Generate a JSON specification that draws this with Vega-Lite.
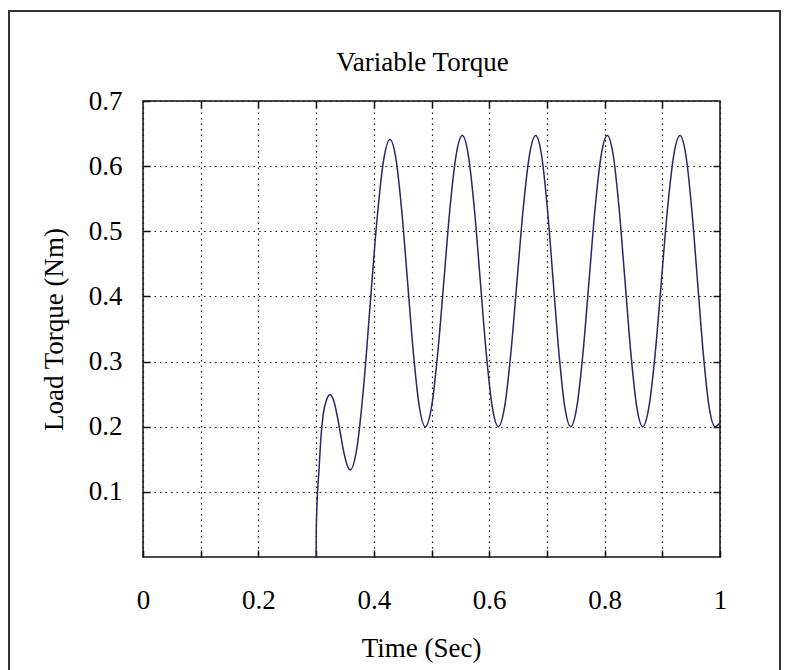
{
  "$schema": "https://vega.github.io/schema/vega-lite/v6.json",
  "width": 577,
  "height": 456,
  "autosize": {"type": "none"},
  "padding": {"left": 143, "top": 101, "right": 68, "bottom": 113},
  "background": "white",
  "title": {"text": "Variable Torque", "fontSize": 27, "font": "Liberation Serif", "fontWeight": "normal", "color": "#000", "frame": "group", "offset": -67, "dx": -9},
  "data": {"values": [
    {"t": 0.3000, "v": 0.000}, {"t": 0.3003, "v": 0.040}, {"t": 0.3016, "v": 0.082}, {"t": 0.3050, "v": 0.133},
    {"t": 0.3080, "v": 0.179}, {"t": 0.3125, "v": 0.220}, {"t": 0.3180, "v": 0.241}, {"t": 0.3241, "v": 0.249},
    {"t": 0.3300, "v": 0.2413}, {"t": 0.3358, "v": 0.2203}, {"t": 0.3417, "v": 0.1915}, {"t": 0.3476, "v": 0.1628},
    {"t": 0.3535, "v": 0.1417}, {"t": 0.3593, "v": 0.134}, {"t": 0.3708, "v": 0.168}, {"t": 0.3823, "v": 0.2608},
    {"t": 0.3937, "v": 0.3875}, {"t": 0.4052, "v": 0.5143}, {"t": 0.4166, "v": 0.607}, {"t": 0.4281, "v": 0.641},
    {"t": 0.4383, "v": 0.6115}, {"t": 0.4485, "v": 0.5308}, {"t": 0.4587, "v": 0.4205}, {"t": 0.4689, "v": 0.3103},
    {"t": 0.4791, "v": 0.2295}, {"t": 0.4893, "v": 0.200},
    {"t": 0.5000, "v": 0.2299}, {"t": 0.5107, "v": 0.3118}, {"t": 0.5214, "v": 0.4235}, {"t": 0.5320, "v": 0.5353}, {"t": 0.5427, "v": 0.6171}, {"t": 0.5534, "v": 0.647},
    {"t": 0.5638, "v": 0.6171}, {"t": 0.5742, "v": 0.5353}, {"t": 0.5846, "v": 0.4235}, {"t": 0.5950, "v": 0.3118}, {"t": 0.6054, "v": 0.2299}, {"t": 0.6158, "v": 0.200},
    {"t": 0.6266, "v": 0.2299}, {"t": 0.6374, "v": 0.3118}, {"t": 0.6482, "v": 0.4235}, {"t": 0.6590, "v": 0.5353}, {"t": 0.6698, "v": 0.6171}, {"t": 0.6806, "v": 0.647},
    {"t": 0.6907, "v": 0.6171}, {"t": 0.7008, "v": 0.5353}, {"t": 0.7109, "v": 0.4235}, {"t": 0.7210, "v": 0.3118}, {"t": 0.7311, "v": 0.2299}, {"t": 0.7412, "v": 0.200},
    {"t": 0.7518, "v": 0.2299}, {"t": 0.7624, "v": 0.3118}, {"t": 0.7730, "v": 0.4235}, {"t": 0.7835, "v": 0.5353}, {"t": 0.7941, "v": 0.6171}, {"t": 0.8047, "v": 0.647},
    {"t": 0.8149, "v": 0.6171}, {"t": 0.8251, "v": 0.5353}, {"t": 0.8354, "v": 0.4235}, {"t": 0.8456, "v": 0.3118}, {"t": 0.8558, "v": 0.2299}, {"t": 0.8660, "v": 0.200},
    {"t": 0.8768, "v": 0.2299}, {"t": 0.8876, "v": 0.3118}, {"t": 0.8984, "v": 0.4235}, {"t": 0.9091, "v": 0.5353}, {"t": 0.9199, "v": 0.6171}, {"t": 0.9307, "v": 0.647},
    {"t": 0.9408, "v": 0.6171}, {"t": 0.9509, "v": 0.5353}, {"t": 0.9610, "v": 0.4235}, {"t": 0.9711, "v": 0.3118}, {"t": 0.9812, "v": 0.2299}, {"t": 0.9913, "v": 0.200},
    {"t": 1.0000, "v": 0.206}
  ]},
  "layer": [
    {
      "mark": {"type": "rect", "fill": "transparent", "stroke": "#333", "strokeWidth": 1.6, "clip": false},
      "encoding": {
        "x": {"datum": -0.232, "type": "quantitative", "axis": null},
        "x2": {"datum": 1.104},
        "y": {"datum": 0.838, "type": "quantitative", "axis": null},
        "y2": {"datum": -0.19}
      }
    },
    {
      "mark": {"type": "line", "color": "#26266a", "strokeWidth": 1.5, "interpolate": "monotone"},
      "encoding": {
        "x": {
          "field": "t", "type": "quantitative",
          "scale": {"domain": [0, 1], "nice": false, "zero": false},
          "axis": {
            "values": [0, 0.1, 0.2, 0.3, 0.4, 0.5, 0.6, 0.7, 0.8, 0.9, 1],
            "format": "~g",
            "labelExpr": "round(datum.value * 10) % 2 == 0 ? datum.label : ''",
            "labelFlush": false, "labelOverlap": false,
            "grid": true, "gridDash": [1.5, 4], "gridColor": "#111", "gridWidth": 1.2,
            "domain": false, "tickSize": -7, "tickColor": "#111", "tickWidth": 1.5,
            "labelPadding": 37, "labelFontSize": 27, "labelFont": "Liberation Serif", "labelColor": "#000",
            "title": "Time (Sec)", "titleFontSize": 27, "titleFont": "Liberation Serif", "titleFontWeight": "normal",
            "titleColor": "#000", "titlePadding": 22, "titleX": 278
          }
        },
        "y": {
          "field": "v", "type": "quantitative",
          "scale": {"domain": [0, 0.7], "nice": false, "zero": false},
          "axis": {
            "values": [0.1, 0.2, 0.3, 0.4, 0.5, 0.6, 0.7],
            "format": "~g", "labelOverlap": false, "labelFlush": false,
            "grid": true, "gridDash": [1.5, 4], "gridColor": "#111", "gridWidth": 1.2,
            "domain": false, "tickSize": -7, "tickColor": "#111", "tickWidth": 1.5,
            "labelPadding": 28, "labelFontSize": 27, "labelFont": "Liberation Serif", "labelColor": "#000",
            "title": "Load Torque (Nm)", "titleFontSize": 27, "titleFont": "Liberation Serif", "titleFontWeight": "normal",
            "titleColor": "#000", "titlePadding": 20
          }
        }
      }
    },
    {
      "mark": {"type": "line", "strokeOpacity": 0},
      "encoding": {
        "x": {
          "field": "t", "type": "quantitative",
          "axis": {"orient": "top", "values": [0.1, 0.2, 0.3, 0.4, 0.5, 0.6, 0.7, 0.8, 0.9], "labels": false, "title": null, "grid": false, "domain": false, "tickSize": -7, "tickColor": "#111", "tickWidth": 1.5}
        },
        "y": {
          "field": "v", "type": "quantitative",
          "axis": {"orient": "right", "values": [0.1, 0.2, 0.3, 0.4, 0.5, 0.6], "labels": false, "title": null, "grid": false, "domain": false, "tickSize": -7, "tickColor": "#111", "tickWidth": 1.5}
        }
      }
    }
  ],
  "resolve": {"axis": {"x": "independent", "y": "independent"}},
  "config": {
    "view": {"stroke": "#111", "strokeWidth": 1.5},
    "font": "Liberation Serif",
    "title": {"font": "Liberation Serif", "fontWeight": "normal"}
  }
}
